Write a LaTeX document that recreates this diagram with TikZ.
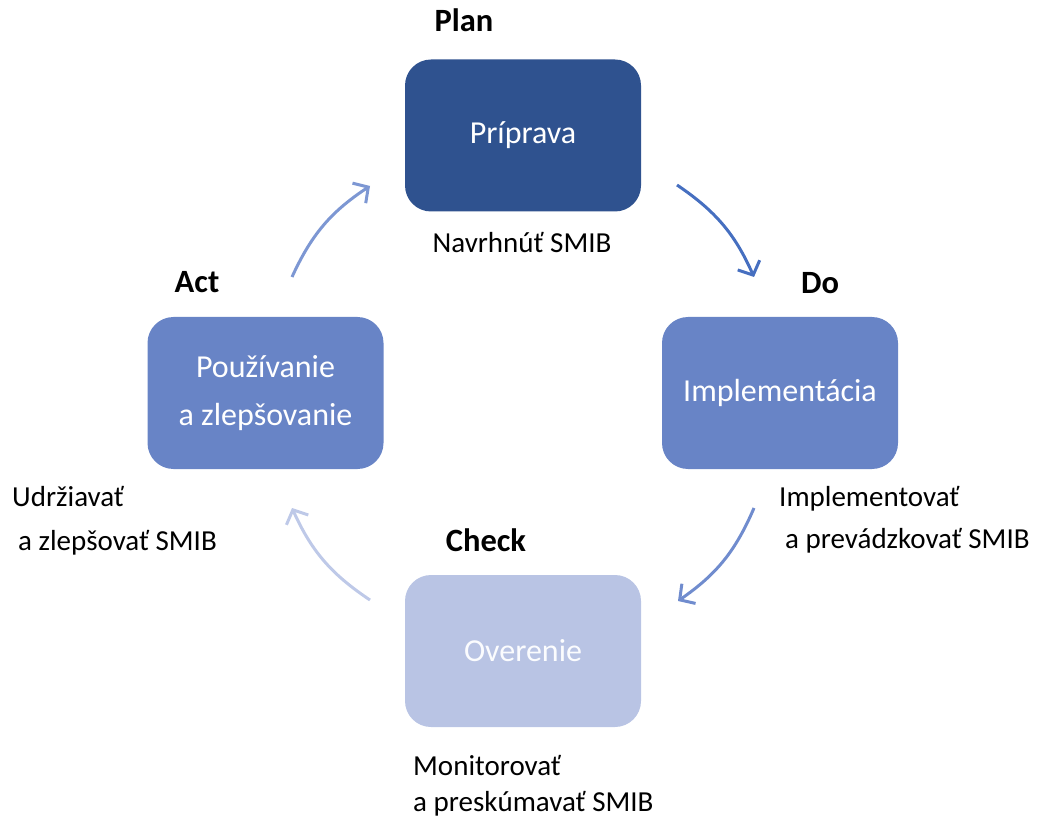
\documentclass[tikz,border=0pt]{standalone}
\usepackage{fontspec}
\setmainfont{Carlito}
\usetikzlibrary{arrows.meta}
\definecolor{planC}{RGB}{47,82,143}
\definecolor{doC}{RGB}{104,132,198}
\definecolor{checkC}{RGB}{185,196,228}
\definecolor{arrA}{RGB}{125,151,211}
\definecolor{arrB}{RGB}{70,111,192}
\definecolor{arrC}{RGB}{112,140,206}
\definecolor{arrD}{RGB}{190,201,232}
\tikzset{
  box/.style={rounded corners=26pt, minimum width=236pt, minimum height=152pt, inner sep=0pt,
    text=white, align=center, font=\fontsize{32}{48}\selectfont},
  head/.style={font=\fontsize{32.5}{38}\selectfont\bfseries, anchor=base, inner sep=0pt},
  sub/.style={font=\fontsize{29}{42}\selectfont, align=left, inner sep=0pt, anchor=west},
  cyc/.style={line width=3pt, -{Straight Barb[length=11pt,width=24pt,line width=3pt]}, bend left=16}
}
\begin{document}
\begin{tikzpicture}[x=1pt,y=-1pt]
\useasboundingbox (0,0) rectangle (1042,818);
% boxes
\node[box, fill=planC] (plan) at (523,135.5) {Príprava};
\node[box, fill=doC] (do) at (780,393) {Implementácia};
\node[box, fill=checkC, text=white!95!checkC] (check) at (523,651) {Overenie};
\node[box, fill=doC] (act) at (265.5,393) {Používanie\\a zlepšovanie};
% headings
\node[head] (hplan) at (464,32) {Plan};
\node[head] (hdo) at (820,294) {Do};
\node[head] (hcheck) at (486,551) {Check};
\node[head] (hact) at (197,293) {Act};
% sub labels
\node[sub, anchor=center, font=\fontsize{29}{35}\selectfont] (splan) at (522,243) {Navrhnúť SMIB};
\node[sub] (sdo) at (779,520) {Implementovať\\\hspace*{6pt}a prevádzkovať SMIB};
\node[sub, font=\fontsize{29}{36}\selectfont] (scheck) at (413,786) {Monitorovať\\a preskúmavať SMIB};
\node[sub, font=\fontsize{29}{44}\selectfont] (sact) at (12,520.5) {Udržiavať\\\hspace*{6pt}a zlepšovať SMIB};
% arrow endpoints
\coordinate (a1) at (292,277);
\coordinate (a2) at (370,186);
\coordinate (b1) at (677,185);
\coordinate (b2) at (754,277);
\coordinate (c1) at (754,508);
\coordinate (c2) at (678,601);
\coordinate (d1) at (370,600);
\coordinate (d2) at (292,508);
\draw[cyc, draw=arrA] (a1) to (a2);
\draw[cyc, draw=arrB] (b1) to (b2);
\draw[cyc, draw=arrC] (c1) to (c2);
\draw[cyc, draw=arrD] (d1) to (d2);
\end{tikzpicture}
\end{document}
